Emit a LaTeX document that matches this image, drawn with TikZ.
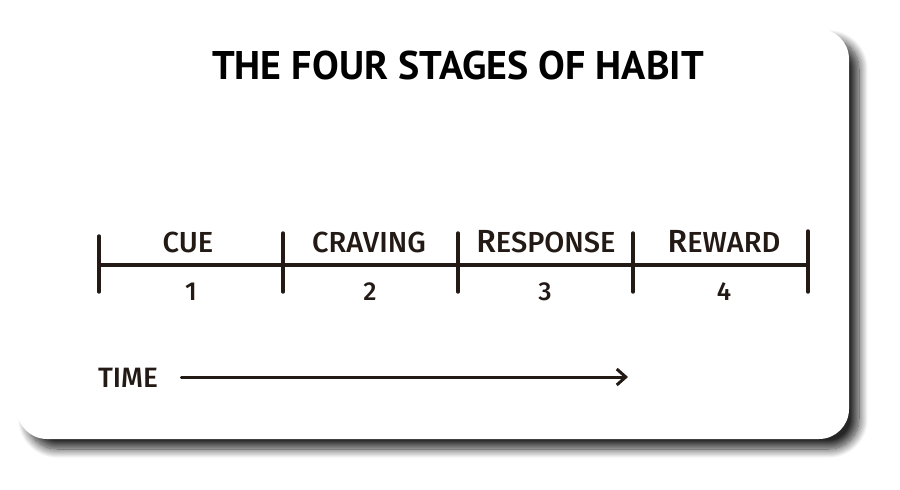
\documentclass[tikz,border=0pt]{standalone}
\usepackage{fontspec}
\setmainfont{Fira Sans}
\newfontfamily\titlefont{PT Sans}
\newfontfamily\handfont{Fira Sans Medium}
\definecolor{ink}{HTML}{231A16}
\usetikzlibrary{arrows.meta, positioning, shadows.blur}

\begin{document}
\begin{tikzpicture}[x=1pt, y=-1pt, >={Straight Barb[length=9pt, width=16pt]},
    stage/.style={text=ink, font=\handfont\fontsize{29}{29}\selectfont, anchor=base},
    num/.style={text=ink, font=\handfont\fontsize{26}{26}\selectfont, anchor=base},
    tick/.style={draw=ink, line width=3.4pt, line cap=round}]
      \useasboundingbox (0,0) rectangle (900,490);
      % Card
      \fill[white, rounded corners=30pt, blur shadow={shadow xshift=10pt, shadow yshift=-10pt,
            shadow blur radius=9pt, shadow blur steps=14, shadow opacity=85}]
        (17,29) rectangle (849,439);
      % Title
      \node[font=\titlefont\bfseries\fontsize{40}{40}\selectfont, anchor=base]
        (title) at (458,79) {THE FOUR STAGES OF HABIT};
      % Timeline
      \foreach \i/\x/\t in {0/99/236,1/283/233,2/458/233,3/633/233,4/808/231} {
        \coordinate (t\i) at (\x,265);
        \draw[tick] (\x,\t) -- (\x,292);
      }
      \draw[tick] (t0) -- (t4);
      % Stages
      \node[stage] (cue) at (188,252) {CUE};
      \node[stage] (craving) at (369,252) {CRAVING};
      \node[stage] (response) at (546,252) {{\fontsize{32}{32}\selectfont R}ESPONSE};
      \node[stage] (reward) at (724,252) {{\fontsize{32}{32}\selectfont R}EWARD};
      \foreach \n/\x in {1/191,2/370,3/545,4/724} {
        \node[num] (n\n) at (\x,300) {\n};
      }
      % Time
      \node[stage, font=\handfont\fontsize{28}{28}\selectfont] (time) at (128,387) {TIME};
      \coordinate (tend) at (628,377);
      \draw[->, ink, line width=3pt, line cap=round] (time.east |- tend) ++(20,0) -- (tend);
    \end{tikzpicture}
\end{document}
